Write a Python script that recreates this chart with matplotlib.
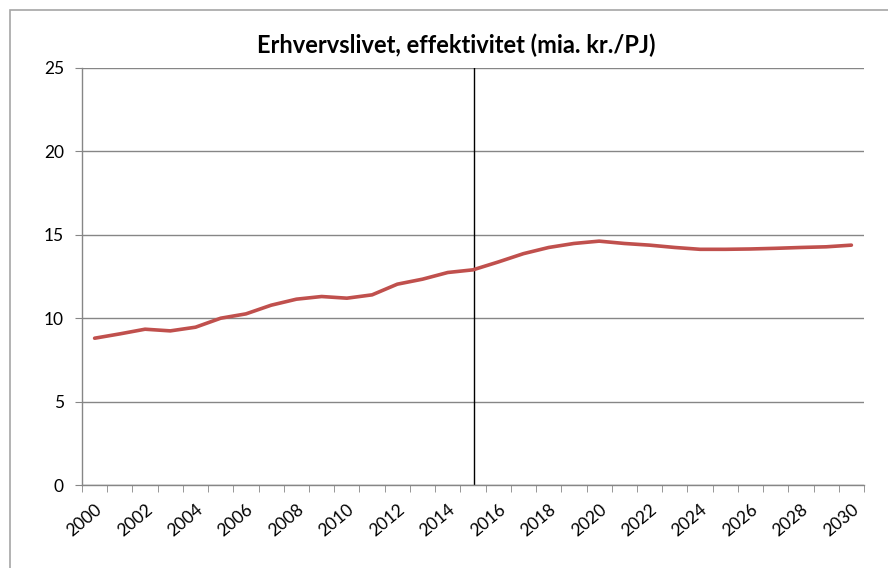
import matplotlib.pyplot as plt
import numpy as np
from matplotlib.patches import Rectangle

years = list(range(2000, 2031))
values = [8.80, 9.06, 9.34, 9.24, 9.46, 10.0, 10.26, 10.78, 11.14, 11.30,
          11.20, 11.40, 12.04, 12.34, 12.74, 12.90, 13.37, 13.87, 14.24, 14.48,
          14.62, 14.48, 14.38, 14.24, 14.13, 14.13, 14.15, 14.19, 14.24, 14.28,
          14.38]
split_year = 2015.05
label_years = list(range(2000, 2031, 2))
y_ticks = [0, 5, 10, 15, 20, 25]

plt.rcParams['font.family'] = ['Lato', 'DejaVu Sans']

fig = plt.figure(figsize=(8.88, 5.68), dpi=100)
ax = fig.add_axes([82/888, 1-485/568, (864-82)/888, (485-68)/568])

# outer chart border
fig.patches.append(Rectangle((10/888, -0.01), 1.0, (558)/568 + 0.01, transform=fig.transFigure,
                             fill=False, edgecolor='#a6a6a6', linewidth=1.2))

ax.plot(years, values, color='#C0504D', linewidth=2.6, solid_capstyle='round', zorder=3)
ax.plot([split_year, split_year], [0, 25], color='black', linewidth=1.0, zorder=2)

ax.set_xlim(1999.5, 2030.5)
ax.set_ylim(0, 25)
ax.set_yticks(y_ticks)
ax.set_yticklabels([str(v) for v in y_ticks], fontsize=12.5)
ax.yaxis.grid(True, color='#868686', linewidth=1.0)
ax.set_axisbelow(True)

ax.set_xticks(label_years)
ax.set_xticklabels([str(y) for y in label_years], rotation=40, ha='right',
                   rotation_mode='anchor', fontsize=12.5)
ax.set_xticks(np.arange(1999.5, 2031, 1.0), minor=True)
ax.tick_params(axis='x', which='major', length=0, pad=12)
ax.tick_params(axis='x', which='minor', length=5, color='#868686', direction='out')
ax.tick_params(axis='y', length=5, color='#868686', pad=8)

for s in ['top', 'right']:
    ax.spines[s].set_visible(False)
for s in ['left', 'bottom']:
    ax.spines[s].set_color('#868686')
    ax.spines[s].set_linewidth(1.0)

fig.text(456/888, 1-45/568, 'Erhvervslivet, effektivitet (mia. kr./PJ)',
         ha='center', va='center', fontsize=17, fontweight='bold')

fig.savefig('out.png', dpi=100)
